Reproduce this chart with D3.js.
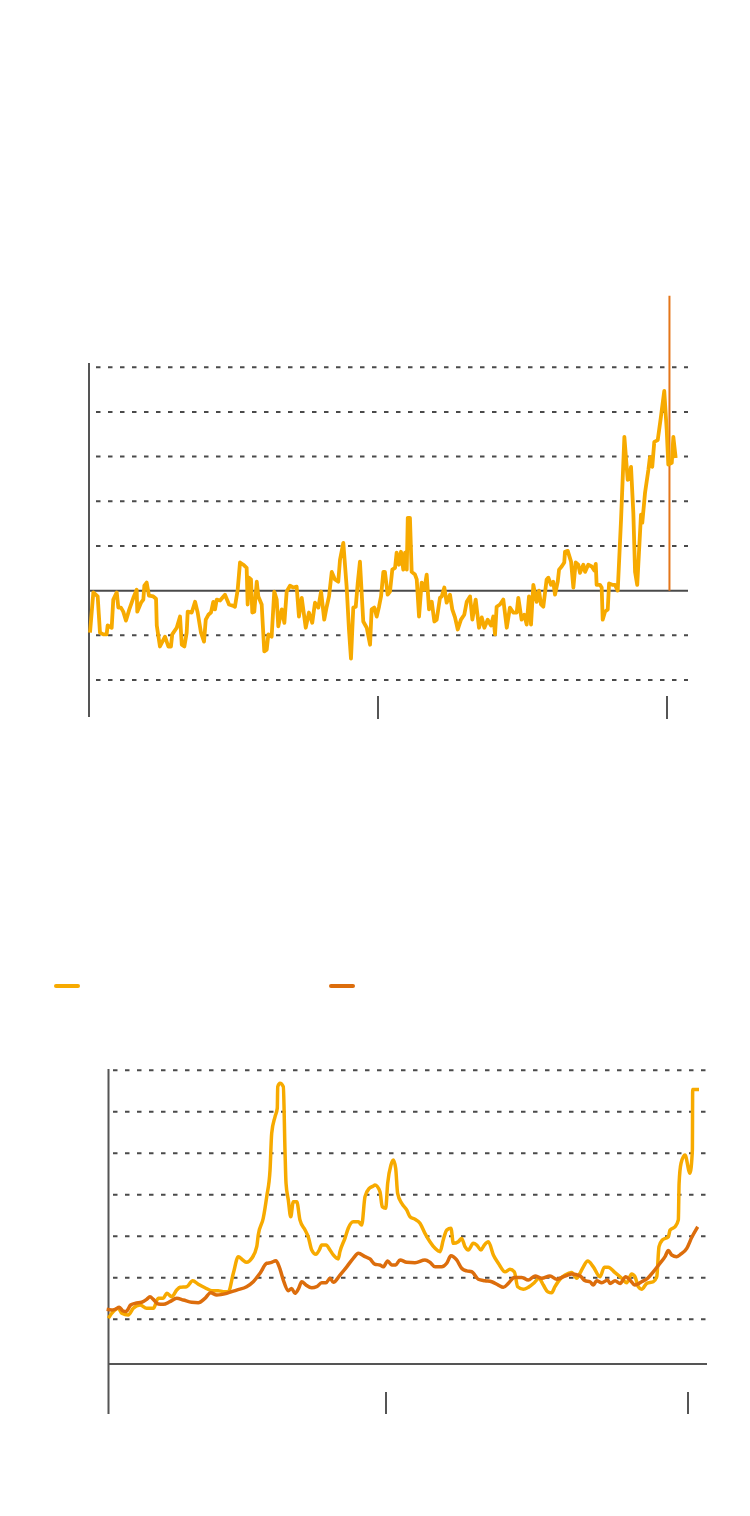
<!DOCTYPE html>
<html>
<head>
<meta charset="utf-8">
<script src="https://cdn.jsdelivr.net/npm/d3@7"></script>
<style>
  body { margin: 0; background: #fff; }
</style>
</head>
<body>
<div id="vis-container"></div>
<script>
// ---- data ----
// top chart: monthly change, [year, value]
const changeSeries = [
  [1980.07,-9.4],[1980.30,-0.4],[1980.60,-1.3],[1980.76,-9.4],[1980.99,-9.8],[1981.22,-9.8],[1981.29,-7.8],[1981.57,-8.3],
  [1981.68,-2.0],[1981.92,-0.4],[1982.03,-3.8],[1982.21,-3.8],[1982.37,-4.7],[1982.56,-6.7],[1982.79,-4.2],[1983.07,-1.6],
  [1983.30,0.2],[1983.34,-4.7],[1983.60,-2.7],[1983.76,-2.0],[1983.83,1.1],[1983.99,1.8],[1984.15,-1.1],[1984.45,-1.3],
  [1984.64,-1.8],[1984.69,-7.8],[1984.91,-12.5],[1985.26,-10.3],[1985.49,-12.5],[1985.67,-12.5],[1985.76,-9.8],[1986.07,-8.3],
  [1986.30,-5.8],[1986.42,-12.1],[1986.60,-12.5],[1986.76,-9.4],[1986.83,-4.7],[1987.11,-4.9],[1987.34,-2.5],[1987.52,-4.9],
  [1987.75,-9.4],[1987.96,-11.4],[1988.08,-6.5],[1988.26,-5.4],[1988.44,-4.9],[1988.60,-2.5],[1988.72,-4.2],[1988.84,-2.0],
  [1989.07,-2.2],[1989.41,-0.9],[1989.69,-3.1],[1989.99,-3.4],[1990.10,-3.6],[1990.29,0.2],[1990.45,6.3],[1990.68,5.8],
  [1990.91,5.1],[1990.98,-3.1],[1991.07,2.9],[1991.21,2.5],[1991.30,-4.9],[1991.44,-4.7],[1991.61,2.0],[1991.72,-1.3],
  [1991.95,-3.1],[1992.13,-13.6],[1992.30,-13.2],[1992.41,-9.8],[1992.64,-10.3],[1992.82,-0.2],[1992.99,-2.0],[1993.10,-8.0],
  [1993.34,-4.2],[1993.52,-7.2],[1993.68,-0.2],[1993.91,1.1],[1994.14,0.7],[1994.37,0.9],[1994.53,-5.8],[1994.72,-1.6],
  [1995.00,-8.3],[1995.22,-4.9],[1995.45,-7.2],[1995.64,-2.7],[1995.87,-3.8],[1996.06,-0.2],[1996.28,-6.5],[1996.45,-3.6],
  [1996.61,-1.3],[1996.80,4.2],[1997.02,2.5],[1997.25,2.0],[1997.37,6.9],[1997.60,10.7],[1997.83,0.9],[1997.99,-8.7],
  [1998.13,-15.2],[1998.29,-3.8],[1998.46,-3.6],[1998.60,1.8],[1998.75,6.5],[1998.98,-6.9],[1999.22,-8.3],[1999.45,-12.1],
  [1999.56,-4.2],[1999.74,-3.8],[1999.91,-5.8],[2000.07,-3.6],[2000.21,-1.3],[2000.37,4.2],[2000.48,4.2],[2000.67,-0.9],
  [2000.83,-0.2],[2000.99,4.7],[2001.18,5.1],[2001.29,8.5],[2001.45,5.8],[2001.59,8.7],[2001.75,4.7],[2001.87,8.5],
  [2001.99,4.7],[2002.06,16.3],[2002.21,16.3],[2002.33,4.2],[2002.56,3.6],[2002.68,2.5],[2002.84,-5.8],[2003.02,1.8],
  [2003.20,0.2],[2003.37,3.6],[2003.53,-4.2],[2003.72,-2.5],[2003.90,-6.9],[2004.06,-6.5],[2004.29,-1.6],[2004.41,-1.3],
  [2004.59,0.7],[2004.75,-2.7],[2004.98,-0.9],[2005.14,-4.2],[2005.33,-6.0],[2005.52,-8.7],[2005.74,-6.5],[2005.97,-5.4],
  [2006.14,-2.5],[2006.37,-1.3],[2006.53,-6.5],[2006.76,-2.0],[2006.99,-8.3],[2007.18,-6.0],[2007.36,-8.3],[2007.59,-6.5],
  [2007.82,-7.8],[2007.98,-5.8],[2008.10,-9.8],[2008.21,-3.6],[2008.44,-3.1],[2008.67,-2.0],[2008.91,-8.3],[2009.13,-3.8],
  [2009.36,-4.9],[2009.60,-4.9],[2009.71,-1.6],[2009.94,-6.5],[2010.12,-5.4],[2010.29,-7.6],[2010.45,-1.3],[2010.59,-7.6],
  [2010.75,1.3],[2010.98,-2.5],[2011.14,0.0],[2011.28,-3.1],[2011.44,-3.6],[2011.67,2.5],[2011.79,2.9],[2011.97,1.3],
  [2012.13,2.0],[2012.25,-0.9],[2012.44,2.0],[2012.53,4.7],[2012.71,5.4],[2012.89,6.3],[2012.94,8.7],[2013.13,8.9],
  [2013.36,6.5],[2013.52,0.7],[2013.68,6.3],[2013.86,5.8],[2013.98,4.0],[2014.21,5.8],[2014.33,4.2],[2014.55,5.8],
  [2014.79,5.4],[2014.97,4.5],[2015.07,6.0],[2015.13,1.3],[2015.36,1.3],[2015.48,0.7],[2015.55,-6.5],[2015.71,-4.7],
  [2015.90,-4.2],[2015.99,1.6],[2016.21,1.3],[2016.40,1.3],[2016.59,0.0],[2016.82,15.9],[2017.05,34.4],[2017.28,24.8],
  [2017.39,25.3],[2017.51,27.7],[2017.67,17.4],[2017.79,4.2],[2017.94,1.3],[2018.06,8.5],[2018.20,17.0],[2018.29,15.2],
  [2018.48,21.9],[2018.71,27.0],[2018.82,29.9],[2018.98,27.7],[2019.12,33.3],[2019.36,33.7],[2019.58,38.9],[2019.81,44.7],
  [2019.98,36.0],[2020.09,28.2],[2020.33,28.6],[2020.44,34.4],[2020.60,29.7]
];
const changeGrid = [-20, -10, 10, 20, 30, 40, 50];
const changeTicks = [2000, 2020];
const markerYear = 2020.17;
const markerTop = 66;

// bottom chart: two price series, [year, value]
const seriesA = [
  [1981.61,20.5],[1981.94,23.7],[1982.27,25.3],[1982.50,22.9],[1982.93,22.1],[1983.26,25.3],[1983.71,26.9],[1984.15,25.3],
  [1984.59,25.3],[1984.92,30.1],[1985.25,30.1],[1985.48,32.5],[1985.81,30.9],[1986.14,34.1],[1986.36,35.4],[1986.80,35.7],
  [1987.20,38.6],[1987.57,36.9],[1988.01,35.2],[1988.46,33.8],[1988.89,33.8],[1989.22,33.3],[1989.56,33.3],[1989.89,42.2],
  [1990.22,50.2],[1990.51,48.6],[1990.77,47.5],[1991.11,49.4],[1991.44,55.0],[1991.54,60.6],[1991.87,68.7],[1992.10,79.1],
  [1992.32,91.9],[1992.43,109.6],[1992.65,117.6],[1992.80,121.7],[1992.83,132.1],[1992.98,133.7],[1993.20,132.1],[1993.31,101.6],
  [1993.38,85.5],[1993.53,77.5],[1993.69,69.4],[1993.86,76.7],[1994.09,76.7],[1994.30,67.9],[1994.64,63.0],[1994.85,59.8],
  [1995.08,53.4],[1995.36,51.3],[1995.58,53.4],[1995.74,55.8],[1996.03,55.8],[1996.29,53.4],[1996.51,51.0],[1996.84,49.1],
  [1996.95,52.6],[1997.28,59.0],[1997.50,63.9],[1997.83,67.0],[1998.17,67.0],[1998.39,65.4],[1998.61,79.1],[1998.89,83.1],
  [1999.16,84.2],[1999.27,84.7],[1999.60,81.5],[1999.75,74.3],[1999.98,73.5],[2000.11,85.5],[2000.33,94.4],[2000.48,96.8],
  [2000.64,92.8],[2000.77,80.7],[2001.04,75.9],[2001.37,72.7],[2001.59,69.4],[2001.92,68.2],[2002.25,66.3],[2002.58,61.4],
  [2002.91,57.4],[2003.25,54.2],[2003.58,52.6],[2003.79,58.2],[2004.02,63.0],[2004.30,63.9],[2004.46,56.6],[2004.79,57.4],
  [2005.01,59.0],[2005.23,55.0],[2005.45,53.4],[2005.78,56.6],[2006.01,55.8],[2006.29,53.4],[2006.51,55.8],[2006.78,57.4],
  [2007.11,51.0],[2007.44,47.0],[2007.88,42.9],[2008.21,44.1],[2008.50,42.9],[2008.72,35.7],[2009.09,34.5],[2009.42,35.4],
  [2009.82,37.6],[2010.13,39.8],[2010.42,36.5],[2010.71,33.3],[2010.97,32.8],[2011.19,35.7],[2011.52,39.3],[2011.86,41.3],
  [2012.30,42.5],[2012.63,39.8],[2012.85,42.2],[2013.07,45.3],[2013.36,48.1],[2013.73,45.3],[2014.17,40.5],[2014.46,45.1],
  [2014.72,45.1],[2015.17,42.5],[2015.61,39.8],[2015.94,37.6],[2016.27,41.8],[2016.49,40.5],[2016.71,35.7],[2016.93,34.5],
  [2017.27,37.3],[2017.70,38.1],[2017.93,40.5],[2018.08,55.0],[2018.30,58.2],[2018.70,59.8],[2018.81,63.0],[2019.14,64.6],
  [2019.36,67.9],[2019.41,85.5],[2019.54,95.2],[2019.80,99.2],[2020.13,90.4],[2020.29,101.6],[2020.31,130.8],[2020.73,130.8]
];
const seriesB = [
  [1981.50,24.8],[1981.83,24.5],[1982.05,24.8],[1982.34,25.8],[1982.56,24.1],[1982.78,23.7],[1983.09,26.9],[1983.38,27.7],
  [1983.82,28.2],[1984.15,29.6],[1984.37,30.9],[1984.59,29.6],[1984.92,27.4],[1985.25,27.2],[1985.69,28.5],[1986.14,30.1],
  [1986.58,29.3],[1987.13,28.2],[1987.57,28.0],[1988.01,30.1],[1988.39,32.8],[1988.79,31.7],[1989.45,32.5],[1990.11,34.1],
  [1990.77,35.7],[1991.21,38.1],[1991.66,42.2],[1992.10,47.0],[1992.36,47.3],[1992.71,48.2],[1992.93,45.3],[1993.20,38.9],
  [1993.53,33.8],[1993.75,34.9],[1993.97,32.5],[1994.19,34.5],[1994.42,38.1],[1994.70,36.5],[1995.08,35.2],[1995.41,35.7],
  [1995.74,37.6],[1996.03,37.6],[1996.29,39.8],[1996.51,37.8],[1996.95,41.3],[1997.40,45.3],[1997.83,49.4],[1998.17,51.8],
  [1998.61,50.2],[1998.94,49.1],[1999.27,46.5],[1999.60,46.2],[1999.82,45.3],[2000.11,48.1],[2000.38,46.2],[2000.64,46.2],
  [2000.93,48.6],[2001.37,47.5],[2001.92,47.3],[2002.58,48.6],[2002.91,47.5],[2003.25,45.3],[2003.69,45.3],[2004.02,47.0],
  [2004.30,50.6],[2004.68,48.6],[2005.01,44.6],[2005.34,43.3],[2005.68,42.9],[2006.11,39.3],[2006.56,38.6],[2007.00,38.1],
  [2007.44,36.5],[2007.77,35.4],[2008.10,37.3],[2008.50,40.2],[2008.99,40.2],[2009.42,38.9],[2009.87,40.9],[2010.31,39.8],
  [2010.86,40.9],[2011.31,39.3],[2011.74,40.5],[2012.30,41.8],[2012.85,40.9],[2013.18,38.6],[2013.51,38.1],[2013.73,36.5],
  [2013.95,38.6],[2014.29,37.6],[2014.68,38.9],[2014.84,37.3],[2015.17,38.6],[2015.50,37.3],[2015.88,40.5],[2016.16,38.9],
  [2016.49,36.5],[2016.93,38.1],[2017.33,39.8],[2017.70,42.9],[2018.15,47.0],[2018.48,50.2],[2018.70,53.1],[2018.92,51.0],
  [2019.25,50.2],[2019.54,51.5],[2019.92,54.2],[2020.25,59.5],[2020.64,64.6]
];
const priceGrid = [20, 40, 60, 80, 100, 120, 140];
const priceTicks = [2000, 2020];

// ---- layout ----
var width = 750, height = 1516;
const yellow = "#f7aa00", orange = "#dc6d0c", ink = "#4a4a4a";

var svg = d3
  .select("#vis-container")
  .append("svg")
  .attr("width", width)
  .attr("height", height);

// ================= top chart =================
var x1 = d3.scaleLinear().domain([1980, 2020]).range([89, 667]);
var y1 = d3.scaleLinear().domain([-20, 50]).range([680, 367.25]);

const top1 = svg.append("g");

// dotted gridlines
top1
  .selectAll(".grid")
  .data(changeGrid)
  .enter()
  .append("line")
  .attr("x1", 96)
  .attr("x2", 688)
  .attr("y1", (d) => y1(d))
  .attr("y2", (d) => y1(d))
  .attr("stroke", ink)
  .attr("stroke-width", 2)
  .attr("stroke-dasharray", "4.5,7.5");

// zero line
top1
  .append("line")
  .attr("x1", 89)
  .attr("x2", 688)
  .attr("y1", y1(0))
  .attr("y2", y1(0))
  .attr("stroke", ink)
  .attr("stroke-width", 2);

// left axis
top1
  .append("line")
  .attr("x1", x1(1980))
  .attr("x2", x1(1980))
  .attr("y1", 363)
  .attr("y2", 717)
  .attr("stroke", "#555")
  .attr("stroke-width", 2);

// x ticks
top1
  .selectAll(".tick")
  .data(changeTicks)
  .enter()
  .append("line")
  .attr("x1", (d) => x1(d))
  .attr("x2", (d) => x1(d))
  .attr("y1", 696)
  .attr("y2", 719)
  .attr("stroke", "#555")
  .attr("stroke-width", 2);

// marker line
top1
  .append("line")
  .attr("x1", x1(markerYear))
  .attr("x2", x1(markerYear))
  .attr("y1", y1(0))
  .attr("y2", y1(markerTop))
  .attr("stroke", "#e4761a")
  .attr("stroke-width", 2);

var line1 = d3
  .line()
  .x((d) => x1(d[0]))
  .y((d) => y1(d[1]));

top1
  .append("path")
  .datum(changeSeries)
  .attr("d", line1)
  .attr("fill", "none")
  .attr("stroke", yellow)
  .attr("stroke-width", 3.8)
  .attr("stroke-linejoin", "round");

// ================= legend =================
svg
  .selectAll(".legend")
  .data([yellow, orange])
  .enter()
  .append("line")
  .attr("x1", (d, i) => 56 + i * 275)
  .attr("x2", (d, i) => 78 + i * 275)
  .attr("y1", 986)
  .attr("y2", 986)
  .attr("stroke", (d) => d)
  .attr("stroke-width", 4)
  .attr("stroke-linecap", "round");

// ================= bottom chart =================
var x2 = d3.scaleLinear().domain([2000, 2020]).range([386, 688]);
var y2 = d3.scaleLinear().domain([0, 140]).range([1360.8, 1070.3]);

const bottom = svg.append("g");

bottom
  .selectAll(".grid")
  .data(priceGrid)
  .enter()
  .append("line")
  .attr("x1", 113)
  .attr("x2", 707)
  .attr("y1", (d) => y2(d))
  .attr("y2", (d) => y2(d))
  .attr("stroke", ink)
  .attr("stroke-width", 2)
  .attr("stroke-dasharray", "4.5,7.5");

// bottom axis line
bottom
  .append("line")
  .attr("x1", 108)
  .attr("x2", 707)
  .attr("y1", 1364)
  .attr("y2", 1364)
  .attr("stroke", "#555")
  .attr("stroke-width", 2);

// left axis
bottom
  .append("line")
  .attr("x1", 108.5)
  .attr("x2", 108.5)
  .attr("y1", 1069)
  .attr("y2", 1414)
  .attr("stroke", "#555")
  .attr("stroke-width", 2);

bottom
  .selectAll(".tick")
  .data(priceTicks)
  .enter()
  .append("line")
  .attr("x1", (d) => x2(d))
  .attr("x2", (d) => x2(d))
  .attr("y1", 1392)
  .attr("y2", 1414)
  .attr("stroke", "#555")
  .attr("stroke-width", 2);

var line2 = d3
  .line()
  .curve(d3.curveMonotoneX)
  .x((d) => x2(d[0]))
  .y((d) => y2(d[1]));

bottom
  .selectAll(".series")
  .data([
    { values: seriesA, color: yellow },
    { values: seriesB, color: orange },
  ])
  .enter()
  .append("path")
  .attr("d", (d) => line2(d.values))
  .attr("fill", "none")
  .attr("stroke", (d) => d.color)
  .attr("stroke-width", 3.5)
  .attr("stroke-linejoin", "round");
</script>
</body>
</html>
